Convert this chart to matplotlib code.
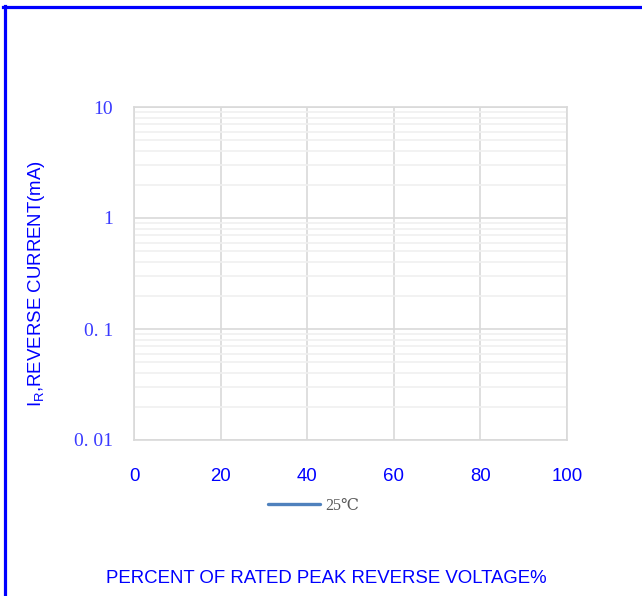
import matplotlib
matplotlib.use("Agg")
import matplotlib.pyplot as plt
from matplotlib.lines import Line2D
from matplotlib.ticker import LogLocator, NullFormatter

# Data (series appears empty in the reference)
series_name = "25℃"
voltage_pct = []
reverse_current = []

x_ticks = [0, 20, 40, 60, 80, 100]
y_ticks = [0.01, 0.1, 1, 10]
y_tick_labels = ["0. 01", "0. 1", "1", "10"]

fig = plt.figure(figsize=(6.42, 5.96), dpi=100)
ax = fig.add_axes([134/642, 1-440/596, (567-134)/642, (440-107)/596])

ax.plot(voltage_pct, reverse_current, color="#4F81BD", lw=2.2, label=series_name)
ax.set_yscale("log")
ax.set_xlim(0, 100)
ax.set_ylim(0.01, 10)

ax.set_xticks(x_ticks)
ax.set_xticklabels([str(v) for v in x_ticks], family="Liberation Sans", fontsize=13.4, color="#0000FF")
ax.set_yticks(y_ticks)
ax.set_yticklabels(y_tick_labels, family="Liberation Serif", fontsize=14, color="#3A3AFF")
ax.yaxis.set_minor_locator(LogLocator(base=10, subs=range(2, 10)))
ax.yaxis.set_minor_formatter(NullFormatter())
ax.tick_params(axis="both", which="both", length=0)
ax.tick_params(axis="x", pad=20)
ax.tick_params(axis="y", pad=15)

ax.grid(True, which="major", color="#D9D9D9", lw=1.2)
ax.grid(True, which="minor", axis="y", color="#F0F0F0", lw=1.2)
ax.set_axisbelow(True)
for s in ax.spines.values():
    s.set_color("#D9D9D9")
    s.set_linewidth(1.2)

fig.text(37/642, 1-284/596, r"I$_\mathregular{R}$,REVERSE CURRENT(mA)", rotation=90,
         ha="center", va="center", family="Liberation Sans", fontsize=13.4, color="#0000FF")
fig.text(326/642, 1-578.5/596, "PERCENT OF RATED PEAK REVERSE VOLTAGE%",
         ha="center", va="center", family="Liberation Sans", fontsize=13.4, color="#0000FF")

# legend
fig.add_artist(Line2D([268/642, 320/642], [1-504/596, 1-504/596], color="#4F81BD", lw=2.4,
                      solid_capstyle="round"))
fig.text(325/642, 1-506/596, series_name, ha="left", va="center",
         family=["Liberation Serif", "DejaVu Serif", "Noto Sans CJK SC"], fontsize=11.5, color="#595959")

# blue frame
fig.add_artist(Line2D([3/642, 1.0], [1-7/596, 1-7/596], color="#0000FF", lw=2.3))
fig.add_artist(Line2D([4.5/642, 4.5/642], [0, 1-5.5/596], color="#0000FF", lw=2.3))

fig.savefig("out.png", dpi=100)
